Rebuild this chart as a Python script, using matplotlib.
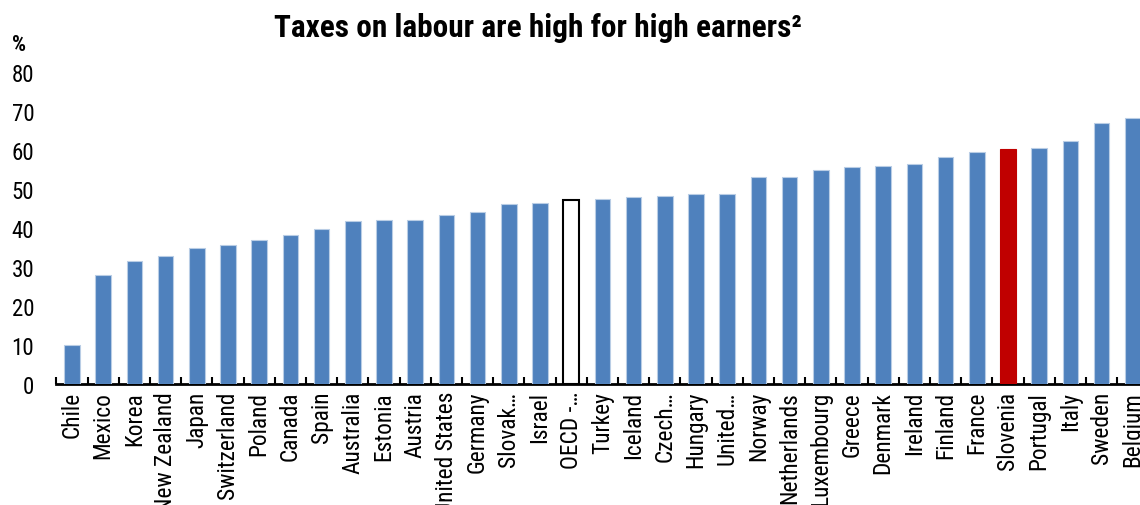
import matplotlib
matplotlib.use("Agg")
import matplotlib.pyplot as plt
import numpy as np

countries = ["Chile", "Mexico", "Korea", "New Zealand", "Japan", "Switzerland", "Poland",
             "Canada", "Spain", "Australia", "Estonia", "Austria", "United States", "Germany",
             "Slovak…", "Israel", "OECD -…", "Turkey", "Iceland", "Czech…", "Hungary",
             "United…", "Norway", "Netherlands", "Luxembourg", "Greece", "Denmark", "Ireland",
             "Finland", "France", "Slovenia", "Portugal", "Italy", "Sweden", "Belgium"]
values = [10.0, 28.0, 31.5, 32.7, 34.9, 35.6, 36.9, 38.1, 39.7, 41.7, 42.0, 42.0, 43.4, 44.0,
          46.2, 46.3, 47.1, 47.5, 48.0, 48.3, 48.7, 48.7, 53.0, 53.1, 54.8, 55.6, 55.9, 56.3,
          58.1, 59.6, 60.3, 60.5, 62.3, 66.8, 68.1]
highlight = "Slovenia"
average = "OECD -…"
yticks = [0, 10, 20, 30, 40, 50, 60, 70, 80]

FONT = ['Roboto Condensed', 'Liberation Sans', 'DejaVu Sans']
plt.rcParams['font.family'] = FONT

fig = plt.figure(figsize=(11.4, 5.06), dpi=100)
n = len(countries)
step = 31.2
ax = fig.add_axes([56.4/1140, 121/506, (n * step) / 1140, 312/506])

x = np.arange(n)
for i, (c, v) in enumerate(zip(countries, values)):
    if c == average:
        ax.bar(i, v, width=0.5, color="white", edgecolor="black", linewidth=1.5, zorder=3)
    elif c == highlight:
        ax.bar(i, v, width=0.5, color="#C00000", edgecolor="#C00000", linewidth=0.8, zorder=3)
    else:
        ax.bar(i, v, width=0.5, color="#4F81BD", edgecolor="#B9CDE5", linewidth=0.8, zorder=3)

ax.set_xlim(-0.5, n - 0.5)
ax.set_ylim(0, 80)
ax.set_yticks(yticks)
ax.set_yticklabels([str(t) for t in yticks], fontsize=16.5)
ax.tick_params(axis='y', length=0, pad=16)

ax.set_xticks(x)
ax.set_xticklabels(countries, rotation=90, fontsize=16.8)
ax.tick_params(axis='x', which='major', length=0, pad=5)
ax.set_xticks(np.arange(n + 1) - 0.5, minor=True)
ax.tick_params(axis='x', which='minor', direction='in', length=5, width=1.5, color='black')

for s in ['top', 'right', 'left']:
    ax.spines[s].set_visible(False)
ax.spines['bottom'].set_linewidth(2)

fig.text(12/1140, 1 - 45/506, "%", fontsize=16, fontweight='bold', ha='left', va='center')
fig.text(538/1140, 1 - 28/506, "Taxes on labour are high for high earners²", fontsize=22.5,
         fontweight='bold', ha='center', va='center')

fig.savefig("out.png", dpi=100)
